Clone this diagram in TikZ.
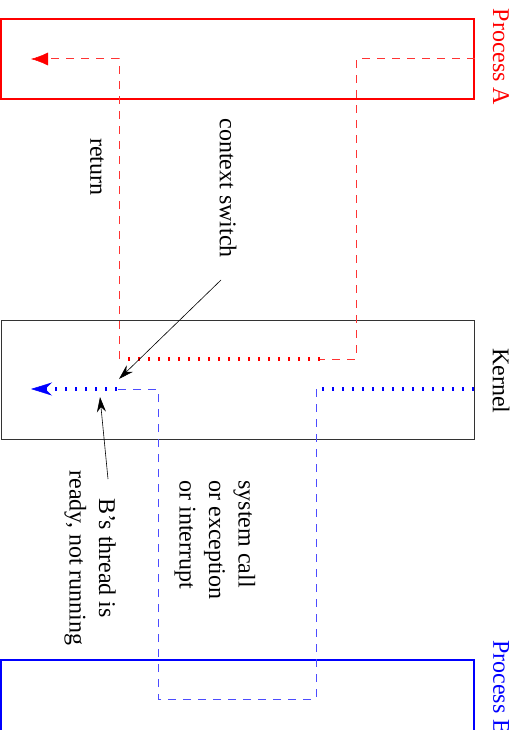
\documentclass[tikz,border=0pt]{standalone}
\usepackage{fontspec}
\setmainfont{Liberation Serif}
\usetikzlibrary{arrows.meta}
\tikzset{
	boite/.style={draw, line width=1.3pt, minimum width=473pt, inner sep=0pt},
	etiq/.style={rotate=-90, inner sep=0pt, font=\fontsize{24}{29.5}\selectfont},
	tiret/.style={line width=1pt, dash pattern=on 8pt off 7pt},
	pointille/.style={line width=3.5pt, dash pattern=on 2pt off 8pt},
	fleche/.style={-{Stealth[length=15pt,width=9pt]}, line width=0.6pt}
}
\begin{document}
\begin{tikzpicture}[x=1pt,y=-1pt]
	\useasboundingbox (0,0) rectangle (531,730);
	% les boites
	\node[boite, draw=red, minimum height=80pt] (procA) at (237.5,59) {};
	\node[boite, draw=black!80, line width=0.9pt, minimum height=119pt] (kernel) at (237.5,379.5) {};
	\coordinate (bG) at (1,731);
	\coordinate (bD) at (474,731);
	\coordinate (bHautD) at (474,660);
	\draw[blue, line width=1.3pt] (bG) |- (bHautD) -- (bD);
	\node[etiq, text=red] (labA) at (501,57) {Process A};
	\node[etiq] (labK) at (501,381) {Kernel};
	\node[etiq, text=blue, anchor=west] (labB) at (501,640) {Process B};
	% les textes
	\node[etiq] (ret) at (97,167) {return};
	\node[etiq] (ctx) at (228,188) {context switch};
	\node[etiq, align=left] (sys) at (215,540) {system call\\or exception\\or interrupt};
	\node[etiq, align=center] (ready) at (90,558) {B’s thread is\\ready, not running};
	% le chemin de A
	\coordinate (aHaut) at (356,59);
	\coordinate (aBas) at (356,359);
	\coordinate (aK1) at (320,359);
	\coordinate (aK2) at (122,359);
	\coordinate (aRet) at (119,359);
	\coordinate (aFin) at (31,59);
	\draw[red!80, tiret] (procA.east) -- (aHaut) -- (aBas) -- (aK1);
	\draw[red, pointille] (aK1) -- (aK2);
	\draw[red!80, tiret, -{Latex[length=17pt,width=13pt,line width=0.5pt,color=red]}] (aRet) |- (aFin);
	% le chemin de B
	\coordinate (bDeb) at (474,389);
	\coordinate (bK1) at (322,389);
	\coordinate (bHaut) at (316,389);
	\coordinate (bBas) at (316,699);
	\coordinate (bRet) at (158,389);
	\coordinate (bK2) at (117,389);
	\coordinate (bFin) at (31,389);
	\draw[blue, pointille] (bDeb) -- (bK1);
	\draw[blue!70, tiret] (bHaut) -- (bBas) -| (bRet) -- (bK2);
	\draw[blue, pointille, -{Stealth[length=21pt,width=13pt,line width=0.5pt]}] (bK2) -- (bFin);
	% les fleches
	\coordinate (ctxDe) at (221,280);
	\coordinate (ctxA) at (119,379);
	\coordinate (readyDe) at (108,479);
	\coordinate (readyA) at (100,397);
	\draw[fleche] (ctxDe) -- (ctxA);
	\draw[fleche] (readyDe) -- (readyA);
\end{tikzpicture}
\end{document}
